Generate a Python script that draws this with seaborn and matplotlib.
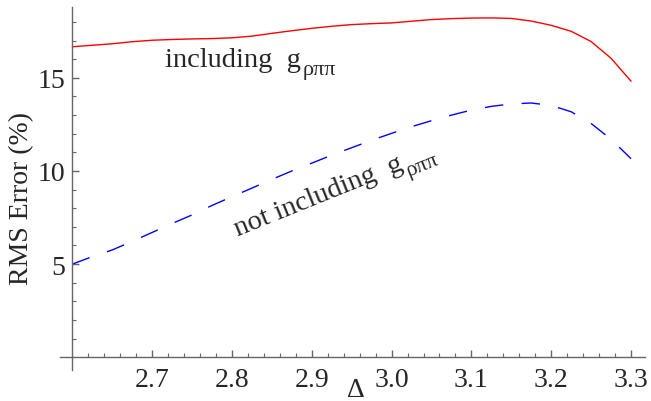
import numpy as np
import pandas as pd
import matplotlib
matplotlib.use("Agg")
import matplotlib.pyplot as plt
from matplotlib.transforms import ScaledTranslation
import seaborn as sns

# values
delta = [2.600, 2.625, 2.650, 2.675, 2.700, 2.725, 2.750, 2.775, 2.800, 2.825,
         2.850, 2.875, 2.900, 2.925, 2.950, 2.975, 3.000, 3.025, 3.050, 3.075,
         3.100, 3.125, 3.150, 3.175, 3.200, 3.225, 3.250, 3.275, 3.300]
with_g = [16.67, 16.75, 16.83, 16.94, 17.02, 17.06, 17.09, 17.11, 17.15, 17.24,
          17.39, 17.53, 17.66, 17.77, 17.86, 17.91, 17.95, 18.04, 18.13, 18.18,
          18.21, 18.22, 18.19, 18.05, 17.82, 17.50, 16.95, 16.05, 14.82]
without_g = [5.00, 5.40, 5.76, 6.22, 6.70, 7.18, 7.64, 8.15, 8.62, 9.08,
             9.55, 10.00, 10.42, 10.85, 11.25, 11.65, 12.02, 12.38, 12.70, 13.00,
             13.27, 13.47, 13.60, 13.65, 13.52, 13.18, 12.55, 11.70, 10.66]
x_major = [2.7, 2.8, 2.9, 3.0, 3.1, 3.2, 3.3]
y_major = [5, 10, 15]

df = pd.DataFrame({"delta": delta, "with_g": with_g, "without_g": without_g})

sns.set_style("white")
plt.rcParams["font.family"] = ["Liberation Serif", "DejaVu Serif"]

fig = plt.figure(figsize=(6.51, 4.02), dpi=100)
ax = fig.add_axes([0.0922, 0.0764, 0.8986, 0.9035])

sns.lineplot(data=df, x="delta", y="with_g", color="#ff0000", linewidth=1.0, ax=ax)
sns.lineplot(data=df, x="delta", y="without_g", color="#0000ff", linewidth=1.0, ax=ax)

ax.set_xlim(2.5846, 3.3175)
ax.set_ylim(-0.7, 18.8)

axis_col = "#666666"
for s in ["top", "right"]:
    ax.spines[s].set_visible(False)
ax.spines["left"].set_position(("data", 2.6))
ax.spines["bottom"].set_position(("data", 0))
for s in ["left", "bottom"]:
    ax.spines[s].set_color(axis_col)
    ax.spines[s].set_linewidth(1.0)

ax.set_xticks(x_major)
ax.set_xticklabels([f"{v:.1f}" for v in x_major])
ax.set_xticks(np.arange(2.62, 3.3001, 0.02), minor=True)
ax.set_yticks(y_major)
ax.set_yticks(np.arange(1, 19, 1), minor=True)

ax.tick_params(which="both", bottom=True, left=True, direction="in", color=axis_col)
ax.tick_params(which="major", length=5, width=1.0, labelsize=20)
ax.tick_params(which="minor", length=2.8, width=0.8)
ax.tick_params(axis="x", which="major", pad=7)
ax.tick_params(axis="y", which="major", pad=5)

ax.set_ylabel("RMS Error (%)", fontsize=20)
ax.yaxis.set_label_coords(-0.0444, 0.477)
ax.set_xlabel("")
ax.text(0.506, -0.052, "Δ", fontsize=20, ha="center", va="center",
        transform=ax.transAxes)

# dashed line: ~18 px dashes, ending inside a dash at 3.3 like the reference
blue = ax.lines[1]
pts = ax.transData.transform(np.column_stack([delta, without_g]))
length = np.hypot(*np.diff(pts, axis=0).T).sum()
n = round(length / 36 - 0.45)
period = length / (n + 0.45)
dash_pt = period / 2 * 72 / fig.dpi
blue.set_dashes((dash_pt, dash_pt))

renderer = fig.canvas.get_renderer()


def label(x, y, main, sub, angle):
    ax.text(x, y, main, fontsize=20.5, ha="left", va="baseline",
            rotation=angle, rotation_mode="anchor")
    tmp = ax.text(0, 0, main, fontsize=20.5)
    w = tmp.get_window_extent(renderer).width
    tmp.remove()
    dx, dy = w + 2, -8
    a = np.radians(angle)
    ox = dx * np.cos(a) - dy * np.sin(a)
    oy = dx * np.sin(a) + dy * np.cos(a)
    tr = ax.transData + ScaledTranslation(ox / fig.dpi, oy / fig.dpi, fig.dpi_scale_trans)
    ax.text(x, y, sub, fontsize=16, ha="left", va="baseline", transform=tr,
            rotation=angle, rotation_mode="anchor")


label(2.7157, 15.65, "including  g", "ρππ", 0)
label(2.8068, 6.53, "not including  g", "ρππ", 22)

fig.savefig("out.png", dpi=100)
